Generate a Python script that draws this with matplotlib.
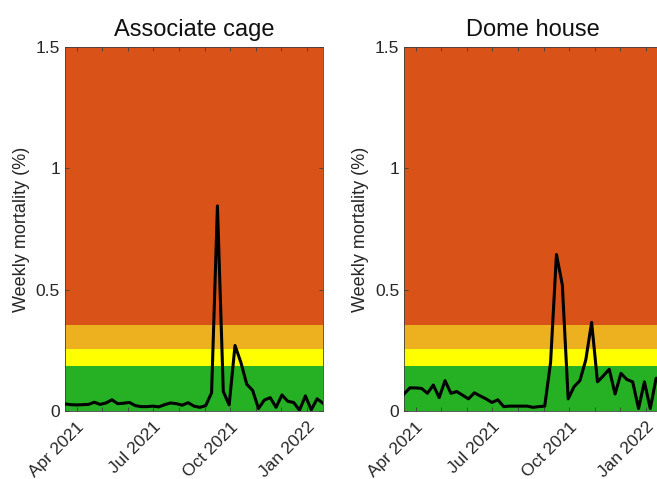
import numpy as np
import pandas as pd
import matplotlib
matplotlib.use("Agg")
import matplotlib.pyplot as plt
import matplotlib.dates as mdates

plt.rcParams['font.family'] = ['Liberation Sans', 'DejaVu Sans']

# weekly sampling dates (same for both sites)
weeks = pd.date_range('2021-03-18', periods=45, freq='7D')

# weekly mortality (%)
associate_cage = [0.029, 0.026, 0.025, 0.026, 0.027, 0.036, 0.027, 0.033, 0.046, 0.030,
                  0.032, 0.035, 0.022, 0.018, 0.018, 0.020, 0.017, 0.026, 0.033, 0.030,
                  0.024, 0.034, 0.020, 0.015, 0.022, 0.075, 0.845, 0.080, 0.025, 0.270,
                  0.200, 0.110, 0.085, 0.010, 0.045, 0.055, 0.015, 0.066, 0.040, 0.035,
                  0.003, 0.062, 0.005, 0.050, 0.032]
dome_house = [0.070, 0.095, 0.095, 0.093, 0.073, 0.107, 0.055, 0.125, 0.073, 0.080,
              0.065, 0.050, 0.075, 0.062, 0.050, 0.035, 0.046, 0.018, 0.020, 0.020,
              0.020, 0.020, 0.015, 0.018, 0.020, 0.200, 0.645, 0.520, 0.050, 0.100,
              0.125, 0.210, 0.365, 0.120, 0.145, 0.172, 0.070, 0.155, 0.130, 0.120,
              0.010, 0.120, 0.010, 0.135, 0.130]

titles = ['Associate cage', 'Dome house']
series = [associate_cage, dome_house]

# alert level bands (%)
band_edges = [0, 0.185, 0.255, 0.355, 1.5]
band_colors = ['#26B125', '#FFFF00', '#EDB120', '#D95319']

fig = plt.figure(figsize=(6.57, 4.79), dpi=100)
positions = [[0.0989, 0.142, 0.3927, 0.760],
             [0.6149, 0.142, 0.3927, 0.760]]

for pos, title, vals in zip(positions, titles, series):
    ax = fig.add_axes(pos)
    for lo, hi, c in zip(band_edges[:-1], band_edges[1:], band_colors):
        ax.axhspan(lo, hi, color=c, lw=0, zorder=0)
    ax.plot(weeks, vals, color='black', lw=2.2, zorder=3)

    ax.set_xlim(weeks[0], weeks[-1])
    ax.set_ylim(0, 1.5)
    ax.set_yticks([0, 0.5, 1, 1.5])
    ax.set_yticklabels(['0', '0.5', '1', '1.5'])

    ax.xaxis.set_major_locator(mdates.MonthLocator(bymonth=[1, 4, 7, 10]))
    ax.xaxis.set_major_formatter(mdates.DateFormatter('%b %Y'))
    ax.xaxis.set_minor_locator(mdates.MonthLocator())
    plt.setp(ax.get_xticklabels(), rotation=45, ha='right', rotation_mode='anchor')

    ax.tick_params(which='both', direction='in', top=True, right=True,
                   length=3, width=0.6, color='#404040', labelsize=12.5,
                   labelcolor='#262626')
    ax.tick_params(axis='x', pad=6)
    for s in ax.spines.values():
        s.set_color('#404040')
        s.set_linewidth(0.6)

    ax.set_title(title, fontsize=17, pad=8, color='#111111')
    ax.set_ylabel('Weekly mortality (%)', fontsize=13, color='#262626', labelpad=4)

fig.savefig('out.png', dpi=100)
